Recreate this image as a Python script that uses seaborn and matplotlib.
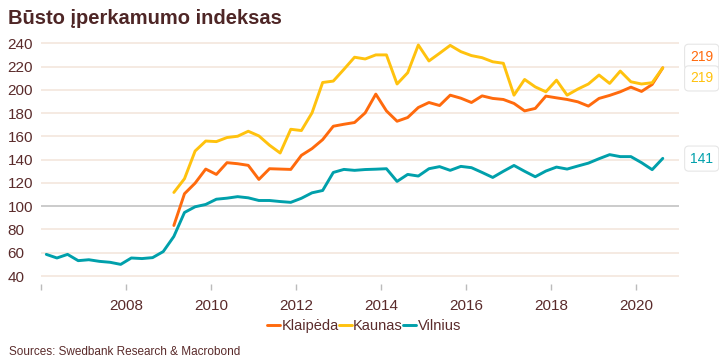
import pandas as pd
import seaborn as sns
import matplotlib.pyplot as plt
import matplotlib.transforms as mtransforms

# Quarterly index values
vilnius = [58.6, 55.5, 58.6, 53.2,
           54.0, 52.6, 51.8, 50.0,
           55.5, 55.0, 55.8, 61.0,
           74.0, 94.6, 99.5, 101.5,
           106.0, 106.9, 108.2, 107.2,
           104.9, 104.9, 104.0, 103.3,
           106.8, 111.5, 113.5, 129.0,
           131.6, 130.8, 131.5, 131.8,
           132.2, 121.3, 127.3, 125.9,
           132.2, 134.0, 130.8, 134.2,
           133.1, 129.0, 124.7, 130.0,
           135.0, 130.0, 125.3, 130.2,
           133.6, 131.9, 134.5, 137.0,
           140.8, 144.3, 142.6, 142.6,
           137.4, 131.4, 141.1]
klaipeda = [83.4, 110.7, 119.8, 131.9,
            127.3, 137.4, 136.5, 135.1,
            123.0, 132.2, 131.9, 131.6,
            143.7, 149.5, 157.2, 168.7,
            170.4, 171.9, 180.2, 196.3,
            181.9, 173.0, 176.2, 184.8,
            189.1, 186.5, 195.4, 192.8,
            189.1, 194.8, 192.6, 191.7,
            188.3, 181.9, 184.0, 194.6,
            193.1, 191.7, 189.7, 186.0,
            192.6, 195.2, 198.3, 202.3,
            198.6, 204.6, 218.9]
kaunas = [111.8, 123.6, 147.4, 156.0,
          155.5, 159.0, 160.1, 164.4,
          160.4, 152.4, 145.7, 166.1,
          165.0, 180.2, 206.3, 207.5,
          217.6, 228.0, 226.5, 230.0,
          230.0, 205.0, 214.7, 238.5,
          224.8, 231.4, 238.2, 232.8,
          229.4, 227.6, 224.1, 222.8,
          195.4, 208.9, 202.5, 198.3,
          208.3, 195.4, 200.6, 205.0,
          212.7, 205.5, 216.1, 206.9,
          205.0, 206.1, 218.9]

cities = ["Klaipėda", "Kaunas", "Vilnius"]
colors = ["#FF6A0D", "#FFC20E", "#00A0AB"]
last_labels = ["219", "219", "141"]
label_y = [228.4, 209.8, 140.9]

quarters = pd.period_range("2006Q1", "2020Q3", freq="Q")
t = quarters.year + (quarters.quarter - 1) * 0.25 + 0.125

frames = []
for name, vals in zip(cities, [klaipeda, kaunas, vilnius]):
    frames.append(pd.DataFrame({"t": t[-len(vals):], "value": vals, "city": name}))
df = pd.concat(frames, ignore_index=True)

sns.set_style("white")
plt.rcParams["font.family"] = ["Liberation Sans", "DejaVu Sans"]

text_col = "#5A2B2B"
fig = plt.figure(figsize=(7.19, 3.62), dpi=100)
ax = fig.add_axes([0.057, 0.215, 0.887, 0.688])

for y in range(40, 260, 20):
    ax.axhline(y, color="#BDBDBD" if y == 100 else "#F2E4DA", lw=1.1, zorder=0)

sns.lineplot(data=df, x="t", y="value", hue="city", hue_order=cities,
             palette=colors, lw=2.1, ax=ax)

ax.set_xlim(2006, 2021)
ax.set_ylim(33, 247)
ax.set_yticks(range(40, 260, 20))
ax.set_xticks(range(2006, 2021, 2))
ax.set_xticklabels([""] + [str(y) for y in range(2008, 2021, 2)])
ax.set_xlabel("")
ax.set_ylabel("")
for s in ax.spines.values():
    s.set_visible(False)
ax.tick_params(axis="y", length=0, pad=24, labelsize=11, labelcolor=text_col)
for lab in ax.get_yticklabels():
    lab.set_horizontalalignment("left")
ax.tick_params(axis="x", length=4, width=1, color="#BBBBBB", direction="out",
               pad=7, labelsize=11, labelcolor=text_col, bottom=True)

# end-value tags on the right
trans = mtransforms.blended_transform_factory(ax.transAxes, ax.transData)
for lab, ly, c in zip(last_labels, label_y, colors):
    ax.text(1.036, ly, lab, transform=trans, ha="center", va="center",
            fontsize=10, color=c, clip_on=False,
            bbox=dict(boxstyle="round,pad=0.4,rounding_size=0.3",
                      fc="white", ec="#E6E6E6", lw=0.8))

ax.legend_.remove()
handles, labels = ax.get_legend_handles_labels()
fig.legend(handles, labels, loc="center", bbox_to_anchor=(0.506, 0.1),
           ncol=3, frameon=False, handlelength=0.9, handletextpad=0.1,
           columnspacing=0.0, fontsize=10.5, labelcolor=text_col)

fig.text(0.011, 0.95, "Būsto įperkamumo indeksas", fontsize=14.5,
         fontweight="bold", color="#4E2626", va="center", ha="left")
fig.text(0.013, 0.027, "Sources: Swedbank Research & Macrobond", fontsize=8.5,
         color=text_col, va="center", ha="left")

fig.savefig("out.png", dpi=100)
